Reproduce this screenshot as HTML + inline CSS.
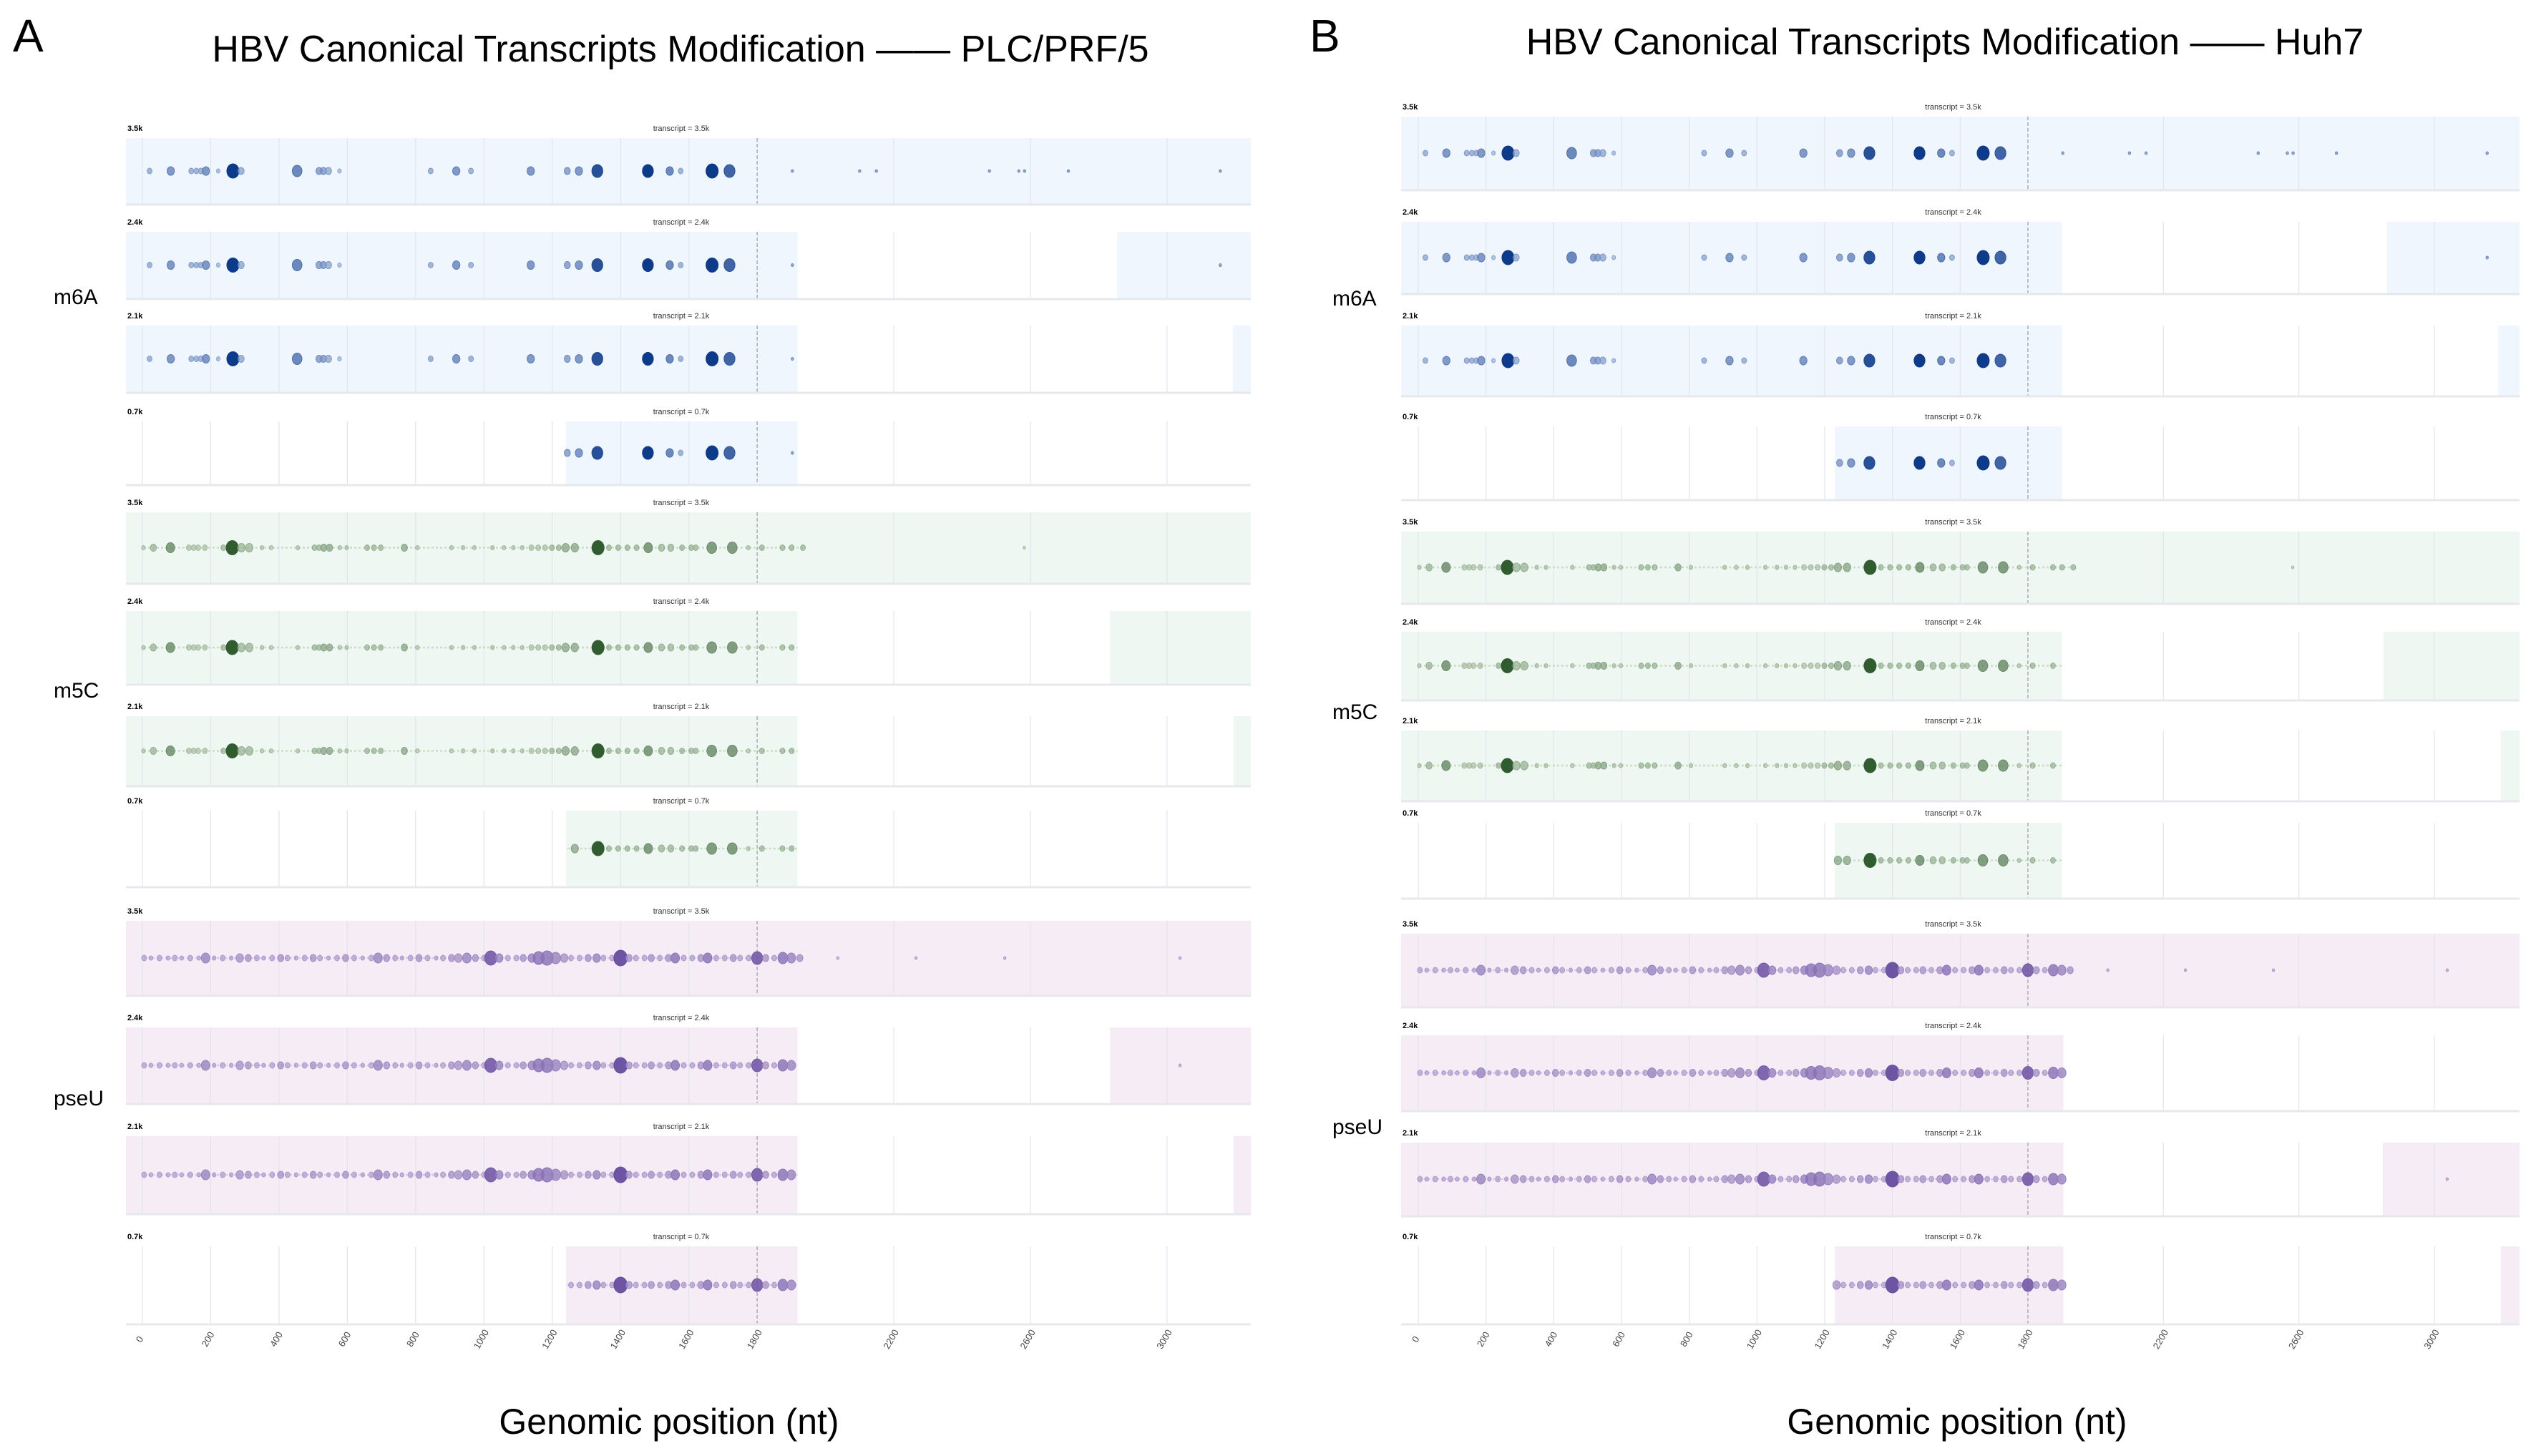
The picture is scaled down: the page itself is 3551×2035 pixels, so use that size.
<!DOCTYPE html>
<html><head><meta charset="utf-8">
<style>
html,body{margin:0;padding:0;background:#fff;}
svg{display:block;font-family:"Liberation Sans",sans-serif;}
</style></head>
<body>
<svg id="chart" width="3551" height="2035" viewBox="0 0 3551 2035" xmlns="http://www.w3.org/2000/svg">
<text x="18" y="72" font-size="64">A</text>
<text x="951" y="86" font-size="52" text-anchor="middle">HBV Canonical Transcripts Modification —— PLC/PRF/5</text>
<text x="1830" y="72" font-size="64">B</text>
<text x="2718" y="76" font-size="52" text-anchor="middle">HBV Canonical Transcripts Modification —— Huh7</text>
<text x="935" y="2004" font-size="50" text-anchor="middle">Genomic position (nt)</text>
<text x="2735" y="2004" font-size="50" text-anchor="middle">Genomic position (nt)</text>
<g id="plots"></g>
</svg>
<script>
// ---- data ----
const tickValues = [0,200,400,600,800,1000,1200,1400,1600,1800,2200,2600,3000];
const transcripts = ["3.5k","2.4k","2.1k","0.7k"];
const m6aPos = [21,83,143,158,171,186,222,265,289,453,517,530,545,577,844,919,962,1137,1244,1278,1332,1480,1544,1576,1668,1719,1903,2100,2149,2480,2566,2583,2711,3156];
const m6aSize = [4,6,4,4,4,6,3,10,5,8,5,5,5,3,4,6,4,6,5,6,9,9,6,4,10,9,2,2,2,2,2,2,2,2];
const m6aLevel = [.3,.5,.3,.3,.3,.5,.2,1,.3,.6,.4,.4,.3,.2,.3,.5,.3,.5,.4,.5,.9,1,.6,.3,1,.8,.4,.4,.4,.4,.4,.4,.4,.4];
const m5cPos = [3,32,82,136,150,163,183,237,263,290,313,350,377,455,504,517,531,548,578,598,658,678,698,767,805,905,939,972,1025,1059,1086,1112,1139,1159,1179,1199,1219,1239,1266,1334,1366,1393,1420,1447,1481,1520,1547,1580,1607,1620,1667,1727,1774,1814,1874,1901,1934,2582];
const m5cSize = [3,5,7,4,4,4,4,4,10,6,6,3,3,3,4,4,5,5,3,3,4,4,4,5,3,3,3,3,3,3,3,3,4,4,4,4,4,6,6,10,4,4,4,4,7,5,5,4,4,4,8,8,3,4,4,4,4,2];
const m5cLevel = [.2,.3,.6,.2,.2,.2,.2,.3,1,.3,.3,.2,.2,.2,.3,.3,.4,.4,.2,.2,.3,.3,.3,.4,.2,.2,.2,.2,.2,.2,.2,.2,.2,.2,.2,.3,.3,.4,.4,1,.3,.3,.3,.3,.6,.3,.3,.3,.3,.3,.6,.6,.2,.3,.3,.3,.3,.2];
const pseuPos = [5,25,50,75,95,115,140,165,185,210,235,260,285,310,335,355,380,405,425,450,475,500,520,545,570,595,620,645,670,690,715,740,760,785,810,835,860,880,905,925,950,975,1000,1020,1045,1070,1095,1115,1140,1160,1185,1210,1235,1255,1280,1305,1330,1350,1375,1400,1425,1445,1470,1490,1515,1540,1560,1585,1610,1635,1655,1680,1705,1730,1750,1775,1800,1825,1850,1875,1900,1925,2036,2265,2525,3038];
const pseuSize = [4,3,4,3,4,3,4,3,7,3,4,3,6,5,4,3,4,5,4,3,4,5,4,3,4,5,4,3,4,7,5,4,3,4,5,4,3,4,5,6,7,5,4,10,6,4,4,5,6,9,10,8,6,4,4,5,6,4,4,11,5,4,4,5,4,5,7,4,4,5,7,4,4,5,4,4,9,5,4,8,7,5,2,2,2,2];
const pseuLevel = [.3,.3,.3,.3,.3,.3,.3,.3,.5,.3,.3,.3,.4,.4,.3,.3,.3,.4,.3,.3,.3,.4,.3,.3,.3,.4,.3,.3,.3,.5,.4,.3,.3,.3,.4,.3,.3,.3,.4,.4,.5,.4,.3,.8,.5,.3,.3,.4,.5,.6,.6,.5,.4,.3,.3,.4,.5,.3,.3,.9,.4,.3,.3,.4,.3,.4,.6,.3,.3,.4,.6,.3,.3,.4,.3,.3,.8,.4,.3,.6,.5,.4,.3,.3,.3,.3];

const mods = [
 {name:"m6A",pos:m6aPos,size:m6aSize,level:m6aLevel,bg:"#eff6fd",lo:[176,193,225],hi:[14,58,138]},
 {name:"m5C",pos:m5cPos,size:m5cSize,level:m5cLevel,bg:"#eef7f2",lo:[190,208,184],hi:[48,92,48]},
 {name:"pseU",pos:pseuPos,size:pseuSize,level:pseuLevel,bg:"#f6ecf5",lo:[206,190,226],hi:[92,64,152]}
];
const spansA = [
 [[[-60,3300]],[[-60,1918],[2854,3300]],[[-60,1918],[3193,3300]],[[1240,1918]]],
 [[[-60,3300]],[[-60,1918],[2833,3300]],[[-60,1918],[3195,3300]],[[1240,1918]]],
 [[[-60,3300]],[[-60,1918],[2833,3300]],[[-60,1918],[3195,3300]],[[1240,1918]]]
];
const spansB = [
 [[[-60,3300]],[[-60,1900],[2860,3300]],[[-60,1900],[3188,3300]],[[1230,1900]]],
 [[[-60,3300]],[[-60,1900],[2850,3300]],[[-60,1900],[3196,3300]],[[1230,1900]]],
 [[[-60,3300]],[[-60,1905]],[[-60,1905],[2848,3300]],[[1230,1905],[3196,3300]]]
];

const NS="http://www.w3.org/2000/svg";
const root=document.getElementById('plots');
function mk(tag,attrs,parent){const e=document.createElementNS(NS,tag);for(const k in attrs)e.setAttribute(k,attrs[k]);(parent||root).appendChild(e);return e;}

const panels=[
 {id:"a",x0:199,k:0.4773,left:176,right:1748,spans:spansA,labelX:75,
  rows:[[193,285],[324,417],[455,548],[589,677],[716,815],[854,956],[1001,1098],[1133,1239],[1287,1391],[1436,1542],[1588,1696],[1742,1850]],
  modLabelY:[425,975,1545]},
 {id:"b",x0:1982,k:0.4733,left:1958,right:3521,spans:spansB,labelX:1862,
  rows:[[163,265],[310,410],[455,553],[596,698],[743,843],[883,978],[1021,1119],[1150,1255],[1305,1407],[1447,1552],[1597,1699],[1742,1850]],
  modLabelY:[427,1005,1585]}
];

panels.forEach(p=>{
 const xs=v=>p.x0+v*p.k;
 const clampL=v=>Math.max(p.left,Math.min(p.right,xs(v)));
 mods.forEach((m,mi)=>{
  const ml=mk('text',{x:p.labelX,y:p.modLabelY[mi],'font-size':30,'text-anchor':'start'});
  
  
  ml.textContent=m.name;
  transcripts.forEach((t,ti)=>{
   const r=p.rows[mi*4+ti];const y0=r[0],y1=r[1],cy=(y0+y1)/2;
   const g=mk('g',{});
   
   
   p.spans[mi][ti].forEach(s=>{
    const a=clampL(s[0]),b=clampL(s[1]);
    const rc=mk('rect',{x:a,y:y0,width:b-a,height:y1-y0,fill:m.bg},g);
    
    
   });
   tickValues.forEach(v=>{
    const gl=mk('line',{x1:xs(v),x2:xs(v),y1:y0,y2:y1,stroke:v===1800?'#b0b0b8':'#e2e4ea','stroke-width':v===1800?1.6:1.2,'stroke-dasharray':v===1800?'5,3':'none'},g);
    
    
   });
   const bl=mk('line',{x1:p.left,x2:p.right,y1:y1+1,y2:y1+1,stroke:'#e6e8ec','stroke-width':3},g);
   
   
   const tl=mk('text',{x:p.left+2,y:y0-10,'font-size':11,'font-weight':'bold'},g);
   
   
   tl.textContent=t;
   const tt=mk('text',{x:(p.left+p.right)/2-10,y:y0-10,'font-size':11,'text-anchor':'middle',fill:'#333'},g);
   
   
   tt.textContent='transcript = '+t;
   const spans=p.spans[mi][ti];
   const isDense=m.name!=="m6A";
   if(isDense){
    const inS=spans.filter(s=>s[0]<1900);
    inS.forEach(s=>{const a=Math.max(xs(Math.max(s[0],0))+2,xs(0));const b=Math.min(xs(1934),xs(s[1]));
     const ln=mk('line',{x1:a,x2:b,y1:cy,y2:cy,stroke:'rgb('+m.lo.join(',')+')','stroke-width':2.5,'stroke-dasharray':'3,3',opacity:.7},g);
     
     });
   }
   m.pos.forEach((v,i)=>{
    if(!spans.some(s=>v>=s[0]&&v<=s[1]))return;
    const L=m.level[i];
    const c=m.lo.map((lo,j)=>Math.round(lo+(m.hi[j]-lo)*L));
    const rr=m.size[i];
    const e=mk('ellipse',{cx:xs(v),cy:cy,rx:rr*0.85,ry:rr,fill:'rgb('+c.join(',')+')','fill-opacity':0.55+0.45*L,stroke:'rgb('+c.join(',')+')','stroke-width':1},g);
    
    
   });
  });
 });
 const lastRow=p.rows[11];
 tickValues.forEach(v=>{
  const x=xs(v),y=lastRow[1]+24;
  const tk=mk('text',{x:x,y:y,'font-size':13,'text-anchor':'middle',fill:'#444',transform:'rotate(-60 '+x+' '+y+')'});
  
  
  tk.textContent=v;
 });
});
</script>
</body></html>
